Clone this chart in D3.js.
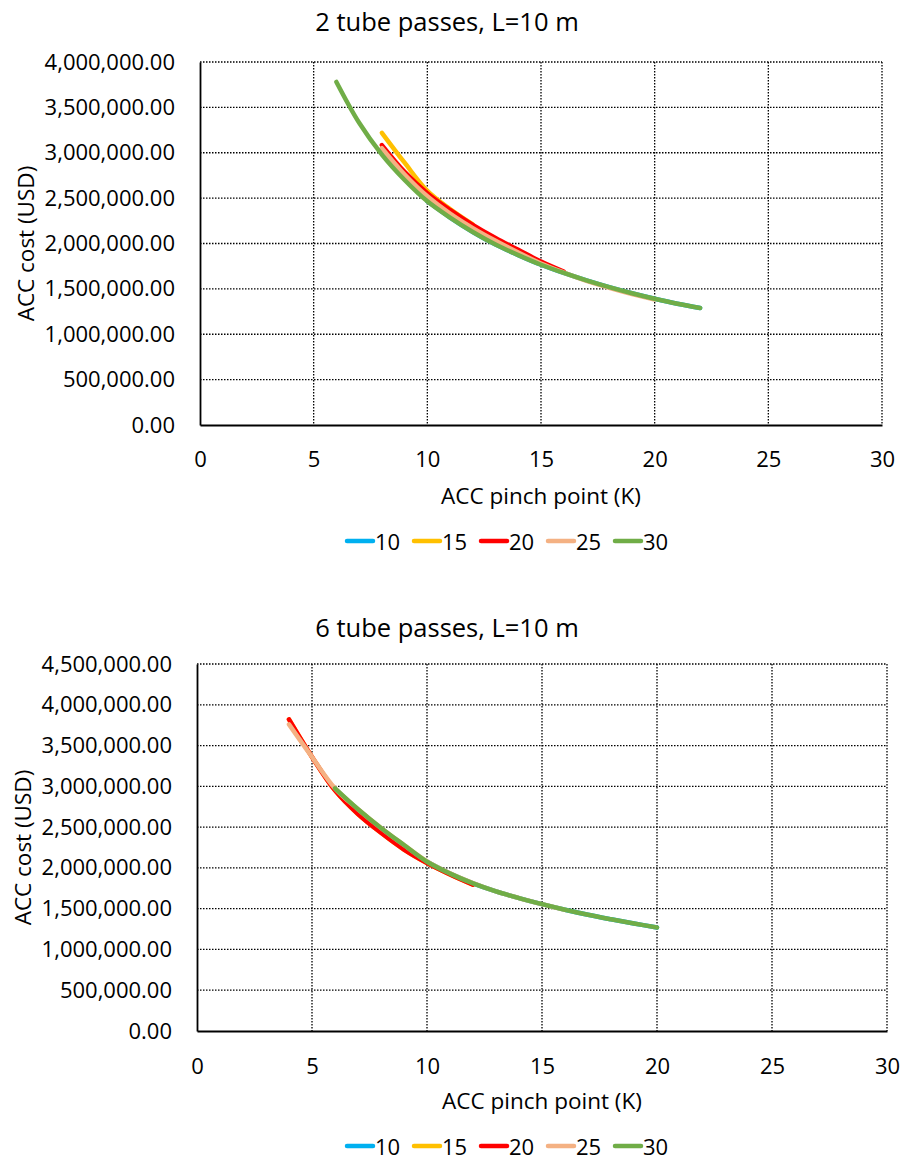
<!DOCTYPE html>
<html>
<head>
<meta charset="utf-8">
<script src="https://cdn.jsdelivr.net/npm/d3@7"></script>
<style>
  html, body { margin: 0; padding: 0; background: #fff; }
  svg { display: block; }
  text { font-family: "Open Sans", "Noto Sans", sans-serif; fill: #000; }
</style>
</head>
<body>
<svg id="chart" width="902" height="1160"></svg>
<script>
// Series keys (tube rows) and their colours
const seriesNames = ["10", "15", "20", "25", "30"];
const seriesColors = ["#00B0F0", "#FFC000", "#FF0000", "#F4B183", "#70AD47"];

// Axis ticks
const xTicks = [0, 5, 10, 15, 20, 25, 30];
const yTicksTop = [0, 500000, 1000000, 1500000, 2000000, 2500000, 3000000, 3500000, 4000000];
const yTicksBottom = [0, 500000, 1000000, 1500000, 2000000, 2500000, 3000000, 3500000, 4000000, 4500000];

// 2 tube passes, L=10 m : pinch point (K) and ACC cost (USD)
const pinchA10 = [10, 11, 12, 13, 14, 15, 16, 17, 18, 19, 20, 21, 22];
const costA10 = [2465000, 2286000, 2127000, 1989000, 1872000, 1766000, 1675000, 1593000, 1519000, 1452000, 1391000, 1336000, 1290000];
const pinchA15 = [8, 9, 10, 11, 12];
const costA15 = [3220000, 2890000, 2580000, 2380000, 2210000];
const pinchA20 = [8, 9, 10, 11, 12, 13, 14, 15, 16];
const costA20 = [3085000, 2790000, 2555000, 2370000, 2205000, 2060000, 1930000, 1800000, 1690000];
const pinchA25 = [8, 9, 10, 11, 12, 13, 14, 15, 16, 17, 18, 19, 20];
const costA25 = [3050000, 2760000, 2520000, 2330000, 2170000, 2030000, 1900000, 1780000, 1680000, 1588000, 1512000, 1443000, 1382000];
const pinchA30 = [6, 7, 8, 9, 10, 11, 12, 13, 14, 15, 16, 17, 18, 19, 20, 21, 22];
const costA30 = [3780000, 3330000, 2980000, 2700000, 2465000, 2286000, 2127000, 1989000, 1872000, 1766000, 1675000, 1593000, 1519000, 1452000, 1391000, 1336000, 1290000];

// 6 tube passes, L=10 m
const pinchB10 = [10, 11, 12, 13, 14, 15, 16, 17, 18, 19, 20];
const costB10 = [2075000, 1930000, 1810000, 1712000, 1630000, 1555000, 1487000, 1425000, 1370000, 1318000, 1270000];
const pinchB15 = [4, 5, 6, 7, 8, 9, 10, 11, 12];
const costB15 = [3820000, 3360000, 2950000, 2660000, 2430000, 2225000, 2060000, 1920000, 1795000];
const pinchB20 = [4, 5, 6, 7, 8, 9, 10, 11, 12];
const costB20 = [3820000, 3360000, 2950000, 2660000, 2430000, 2225000, 2060000, 1920000, 1795000];
const pinchB25 = [4, 5, 6, 7, 8, 9, 10, 11, 12, 13, 14, 15, 16];
const costB25 = [3760000, 3360000, 2975000, 2720000, 2490000, 2280000, 2080000, 1935000, 1815000, 1712000, 1630000, 1555000, 1485000];
const pinchB30 = [6, 7, 8, 9, 10, 11, 12, 13, 14, 15, 16, 17, 18, 19, 20];
const costB30 = [2975000, 2720000, 2490000, 2280000, 2075000, 1930000, 1810000, 1712000, 1630000, 1555000, 1487000, 1425000, 1370000, 1318000, 1270000];

const svg = d3.select("#chart");
const fmtY = d3.format(",.2f");

function zipSeries(pinches, costs) {
  return pinches.map((p, i) => ({ x: p, y: costs[i] }));
}

function drawPanel(opt) {
  const g = svg.append("g");
  const x = d3.scaleLinear().domain([0, 30]).range([opt.left, opt.right]);
  const y = d3.scaleLinear().domain([0, opt.yMax]).range([opt.bottom, opt.top]);

  // dotted grid
  g.append("g").selectAll("line").data(xTicks.filter(d => d > 0)).join("line")
    .attr("x1", d => x(d)).attr("x2", d => x(d))
    .attr("y1", opt.top).attr("y2", opt.bottom)
    .attr("stroke", "#000").attr("stroke-width", 1.3)
    .attr("stroke-dasharray", "1.5,1.5");
  g.append("g").selectAll("line").data(opt.yTicks.filter(d => d > 0)).join("line")
    .attr("x1", opt.left).attr("x2", opt.right)
    .attr("y1", d => y(d)).attr("y2", d => y(d))
    .attr("stroke", "#000").attr("stroke-width", 1.3)
    .attr("stroke-dasharray", "1.5,1.5");

  // axes
  const xAxis = d3.axisBottom(x).tickValues(xTicks).tickSize(0).tickPadding(opt.xPad).tickFormat(d3.format("d"));
  const gx = g.append("g").attr("transform", `translate(0,${opt.bottom})`).call(xAxis);
  gx.select(".domain").attr("stroke", "#000").attr("stroke-width", 1.8);
  gx.selectAll(".tick text").style("font-size", "22px").attr("dy", "0.71em");

  const yAxis = d3.axisLeft(y).tickValues(opt.yTicks).tickSize(0).tickPadding(opt.left - opt.labelRight).tickFormat(fmtY);
  const gy = g.append("g").attr("transform", `translate(${opt.left},0)`).call(yAxis);
  gy.select(".domain").attr("stroke", "#000").attr("stroke-width", 1.8);
  gy.selectAll(".tick text").style("font-size", "22px");

  // series curves
  const line = d3.line().x(d => x(d.x)).y(d => y(d.y)).curve(d3.curveCatmullRom.alpha(0.5));
  opt.series.forEach((s, i) => {
    g.append("path").datum(zipSeries(s[0], s[1]))
      .attr("fill", "none")
      .attr("stroke", seriesColors[i])
      .attr("stroke-width", 4.5)
      .attr("stroke-linecap", "round")
      .attr("stroke-linejoin", "round")
      .attr("d", line);
  });

  // titles
  g.append("text").attr("x", opt.titleX).attr("y", opt.titleY)
    .attr("text-anchor", "middle").attr("dominant-baseline", "central")
    .style("font-size", "25.5px").text(opt.title);
  g.append("text").attr("x", (opt.left + opt.right) / 2).attr("y", opt.xTitleY)
    .attr("text-anchor", "middle").attr("dominant-baseline", "central")
    .style("font-size", "22.5px").text("ACC pinch point (K)");
  g.append("text")
    .attr("transform", `translate(${opt.yTitleX},${(opt.top + opt.bottom) / 2}) rotate(-90)`)
    .attr("text-anchor", "middle").attr("dominant-baseline", "central")
    .style("font-size", "22.5px").text("ACC cost (USD)");

  // legend
  const lg = g.append("g").selectAll("g").data(seriesNames).join("g")
    .attr("transform", (d, i) => `translate(${opt.legendX + i * 67},${opt.legendY})`);
  lg.append("line").attr("x1", 0).attr("x2", 26).attr("y1", 0).attr("y2", 0)
    .attr("stroke", (d, i) => seriesColors[i]).attr("stroke-width", 4.5).attr("stroke-linecap", "round");
  lg.append("text").attr("x", 28).attr("y", 0).attr("dominant-baseline", "central")
    .style("font-size", "22px").text(d => d);
}

drawPanel({
  left: 200, right: 882, top: 62, bottom: 425, yMax: 4000000,
  yTicks: yTicksTop, labelRight: 175, xPad: 26,
  title: "2 tube passes, L=10 m", titleX: 447, titleY: 21,
  xTitleY: 495, yTitleX: 25, legendX: 347, legendY: 541,
  series: [[pinchA10, costA10], [pinchA15, costA15], [pinchA20, costA20], [pinchA25, costA25], [pinchA30, costA30]]
});

drawPanel({
  left: 197, right: 887, top: 664, bottom: 1031, yMax: 4500000,
  yTicks: yTicksBottom, labelRight: 172, xPad: 27,
  title: "6 tube passes, L=10 m", titleX: 447, titleY: 627,
  xTitleY: 1100, yTitleX: 22, legendX: 347, legendY: 1146,
  series: [[pinchB10, costB10], [pinchB15, costB15], [pinchB20, costB20], [pinchB25, costB25], [pinchB30, costB30]]
});
</script>
</body>
</html>
